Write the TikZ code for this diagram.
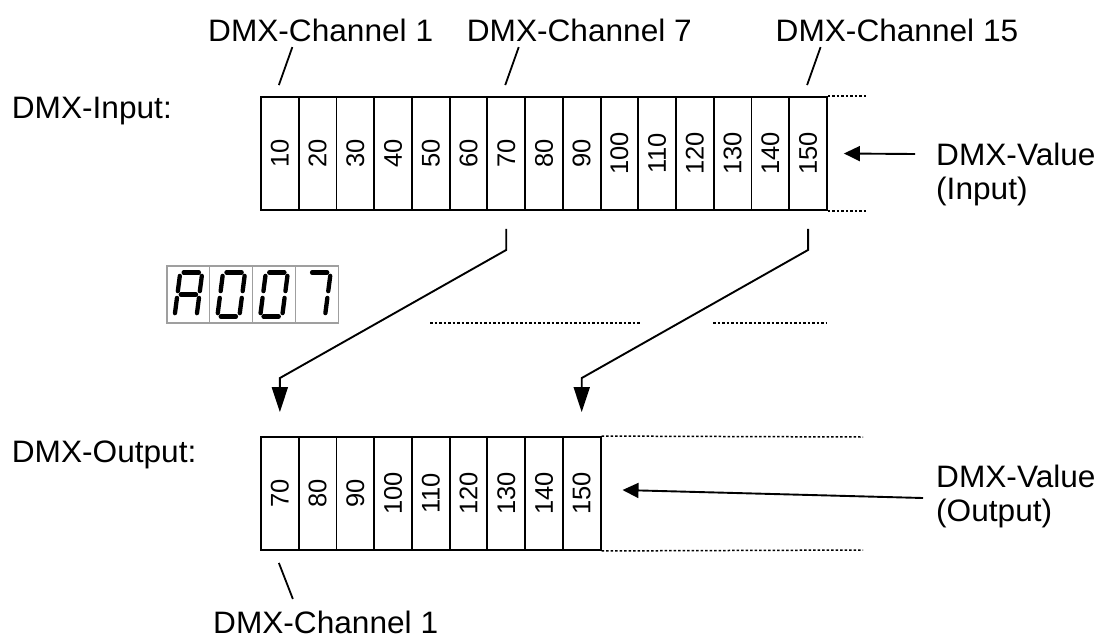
\documentclass[tikz,border=0pt]{standalone}
\usepackage{fontspec}
\setmainfont{Liberation Sans}
\usetikzlibrary{calc,arrows.meta}
\begin{document}
\begin{tikzpicture}[x=1pt,y=-1pt,
  cell/.style={draw, line width=1.9pt, minimum width=37.73pt, minimum height=113pt, inner sep=0pt},
  num/.style={rotate=90, inner sep=0pt, font=\fontsize{25.5}{29}\selectfont},
  lbl/.style={inner sep=0pt, xscale=1.02, font=\fontsize{31}{35}\selectfont},
  tick/.style={line width=1.8pt},
  dots/.style={line width=1.5pt, dash pattern=on 2.5pt off 2pt},
  conn/.style={line width=1.9pt, -{Triangle[length=25pt,width=16pt]}},
  varr/.style={line width=1.9pt, -{Triangle[length=16pt,width=15pt]}},
  segbox/.style={draw=gray!75, line width=1.3pt, minimum width=42.8pt, minimum height=57pt, inner sep=0pt},
  seg/.style={line width=4.3pt, line cap=round, shorten <=3.4pt, shorten >=3.4pt}
]
\useasboundingbox (0,0) rectangle (1102,638);

% top row
\foreach \v [count=\i] in {10,20,30,40,50,60,70,80,90,100,110,120,130,140,150}{
  \node[cell] (t\i) at ({261+(\i-0.5)*37.73},153.5) {};
  \node[num] (tn\i) at (t\i) {\v};
}
\draw[dots] (t15.north east) -- ++(38,0);
\draw[dots] (t15.south east) -- ++(38,0);

% bottom row
\foreach \v [count=\i] in {70,80,90,100,110,120,130,140,150}{
  \node[cell] (b\i) at ({261+(\i-0.5)*37.73},493.5) {};
  \node[num] (bn\i) at (b\i) {\v};
}
\draw[dots] (b9.north east) -- (863,437);
\draw[dots] (b9.south east) -- (863,550);

% labels
\node[lbl, anchor=base west] (lin) at (11.7,118) {DMX-Input:};
\node[lbl, anchor=base west] (lout) at (11.7,462) {DMX-Output:};
\node[lbl, anchor=base west] (c1) at (208,41.5) {DMX-Channel 1};
\node[lbl, anchor=base east] (c7) at (692,41.5) {DMX-Channel 7};
\node[lbl, anchor=base west] (c15) at (775.5,41.5) {DMX-Channel 15};
\node[lbl, anchor=base west] (cb1) at (213,633) {DMX-Channel 1};
\node[lbl, anchor=base west] (vin1) at (936,165) {DMX-Value};
\node[lbl, anchor=base west] (vin2) at (936,199) {(Input)};
\node[lbl, anchor=base west] (vout1) at (936,487) {DMX-Value};
\node[lbl, anchor=base west] (vout2) at (936,521) {(Output)};

% ticks
\foreach \n in {1,7,15}{
  \draw[tick] ($(t\n.north)+(-1,-11)$) -- ($(t\n.north)+(12.5,-49)$);
}
\draw[tick] ($(b1.south)+(-1,12)$) -- ($(b1.south)+(13,48)$);

% value arrows
\coordinate (vinT) at (915,154);
\draw[varr] (vinT) -- ($(t15.east)+(16,0)$);
\coordinate (voutT) at (923,498);
\draw[varr] (voutT) -- ($(b9.east)+(21,-3.5)$);

% mapping arrows
\draw[conn] ($(t7.south)+(0,18)$) -- ($(t7.south)+(0,39)$) -- ($(b1.north)+(0,-58)$) -- ($(b1.north)+(0,-24)$);
\draw[conn] ($(t15.south)+(0,18)$) -- ($(t15.south)+(0,39)$) -- ($(b9.north)+(0,-58)$) -- ($(b9.north)+(0,-24)$);

% middle dotted lines
\draw[dots] (430,323) -- (640,323);
\draw[dots] (713,323) -- (827,323);

% seven segment display
\foreach \i in {1,2,3,4}{
  \node[segbox] (d\i) at ({167+(\i-0.5)*42.8},294.5) {};
}
% A
\begin{scope}[shift={(d1.center)}, xslant=0.13]
  \draw[seg] (-11,-22) -- (11,-22);
  \draw[seg] (11,-22) -- (11,0);
  \draw[seg] (11,0) -- (11,22);
  \draw[seg] (-11,0) -- (-11,22);
  \draw[seg] (-11,-22) -- (-11,0);
  \draw[seg] (-11,0) -- (11,0);
\end{scope}
% 0
\foreach \k in {2,3}{
\begin{scope}[shift={(d\k.center)}, xslant=0.13]
  \draw[seg] (-11,-22) -- (11,-22);
  \draw[seg] (11,-22) -- (11,0);
  \draw[seg] (11,0) -- (11,22);
  \draw[seg] (-11,22) -- (11,22);
  \draw[seg] (-11,0) -- (-11,22);
  \draw[seg] (-11,-22) -- (-11,0);
\end{scope}
}
% 7
\begin{scope}[shift={(d4.center)}, xslant=0.13]
  \draw[seg] (-11,-22) -- (11,-22);
  \draw[seg] (11,-22) -- (11,0);
  \draw[seg] (11,0) -- (11,22);
\end{scope}
\end{tikzpicture}
\end{document}
